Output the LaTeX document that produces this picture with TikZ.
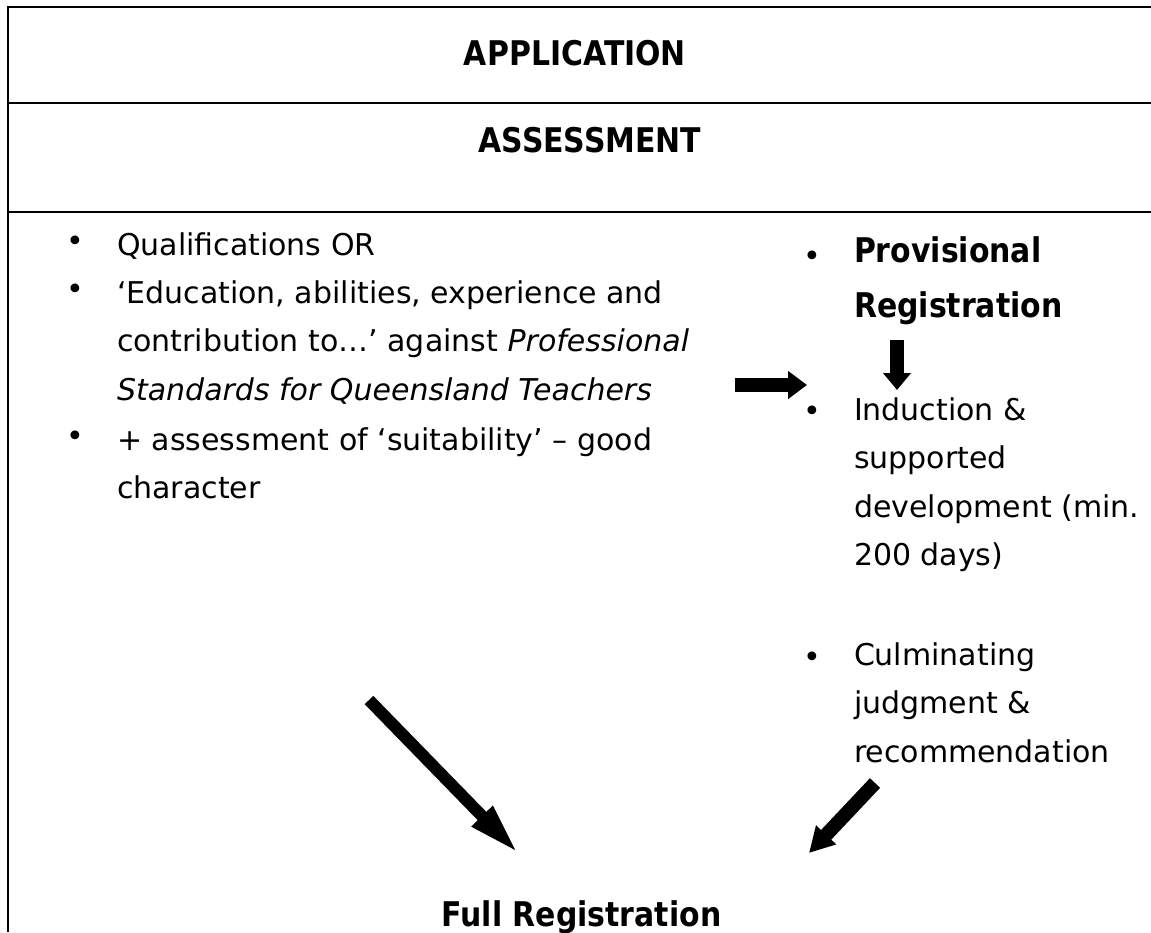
\documentclass[tikz,border=0pt]{standalone}
\usepackage{fontspec}
\setmainfont{DejaVu Sans}
\newfontfamily\headfont{DejaVu Sans Bold}[FakeStretch=0.88]
\usetikzlibrary{arrows.meta}
\begin{document}
\begin{tikzpicture}[x=1pt,y=-1pt,
  rule/.style={line width=2.5pt},
  body/.style={inner sep=0pt, outer sep=0pt, align=left, font=\fontsize{30}{48.5}\selectfont},
  head/.style={inner sep=0pt, outer sep=0pt, align=left, font=\headfont\fontsize{34}{55}\selectfont},
  bul/.style={inner sep=0pt, outer sep=0pt, font=\fontsize{30}{30}\selectfont},
  blockarrow/.style={line width=13pt},
]
\useasboundingbox (0,0) rectangle (1151,932);
% frame
\draw[rule] (1151,7) -- (8,7) -- (8,932);
\draw[rule] (8,103) -- (1151,103);
\draw[rule] (8,212) -- (1151,212);
% headings
\node[head, anchor=base] (app) at (575,65) {APPLICATION};
\node[head, anchor=base] (ass) at (590,152) {ASSESSMENT};
% left column (base anchor = baseline of last line)
\node[bul, anchor=base] (b1) at (75,251.3) {•};
\node[body, anchor=base west] (qual) at (117,255) {Qualifications OR};
\node[bul, anchor=base] (b2) at (75,299.3) {•};
\node[body, anchor=base west] (edu) at (117,400) {‘Education, abilities, experience and\\contribution to…’ against \textit{Professional}\\\textit{Standards for Queensland Teachers}};
\node[bul, anchor=base] (b3) at (75,446.3) {•};
\node[body, anchor=base west] (suit) at (117,498.5) {+ assessment of ‘suitability’ – good\\character};
% right column
\node[bul, anchor=base] (b4) at (812,266.3) {•};
\node[head, anchor=base west] (prov) at (854,317) {Provisional\\Registration};
\node[bul, anchor=base] (b5) at (812,421.3) {•};
\node[body, anchor=base west] (ind) at (854,565.5) {Induction \&\\supported\\development (min.\\200 days)};
\node[bul, anchor=base] (b6) at (812,667.3) {•};
\node[body, anchor=base west] (cul) at (854,762) {Culminating\\judgment \&\\recommendation};
% bottom
\node[head, anchor=base] (full) at (581.5,926) {Full Registration};
% arrows
\coordinate (r1) at (735,385); \coordinate (r2) at (807,385);
\coordinate (d1) at (897,340); \coordinate (d2) at (897,390);
\coordinate (l1) at (369,700); \coordinate (l2) at (519,854);
\coordinate (c1) at (875,783); \coordinate (c2) at (809,853);
\draw[blockarrow, line width=14pt, -{Triangle[length=19pt,width=27pt]}] (r1) -- (r2);
\draw[blockarrow, line width=14pt, -{Triangle[length=17pt,width=27pt]}] (d1) -- (d2);
\draw[blockarrow, line width=12pt, -{Triangle[length=53pt,width=26pt]}] (l1) -- (l2);
\draw[blockarrow, line width=14pt, -{Triangle[length=25pt,width=26pt]}] (c1) -- (c2);
\end{tikzpicture}
\end{document}
